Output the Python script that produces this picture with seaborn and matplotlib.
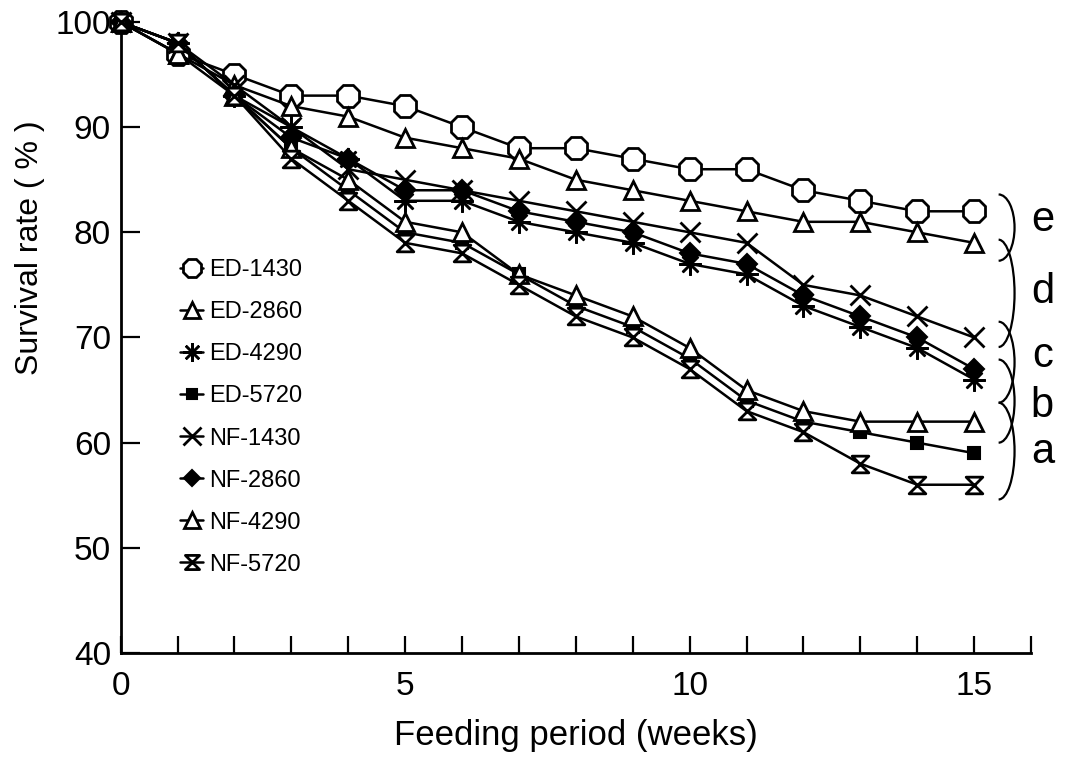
import matplotlib
matplotlib.use("Agg")
import matplotlib.pyplot as plt
import numpy as np
import pandas as pd
import seaborn as sns
from matplotlib.path import Path
from matplotlib.patches import Arc
from matplotlib.ticker import MultipleLocator, FixedLocator

# ---------------- data ----------------
weeks = list(range(16))
series_names = ["ED-1430", "ED-2860", "ED-4290", "ED-5720",
                "NF-1430", "NF-2860", "NF-4290", "NF-5720"]
ed_1430 = [100, 97, 95, 93, 93, 92, 90, 88, 88, 87, 86, 86, 84, 83, 82, 82]
ed_2860 = [100, 97, 94, 92, 91, 89, 88, 87, 85, 84, 83, 82, 81, 81, 80, 79]
ed_4290 = [100, 98, 93, 90, 87, 83, 83, 81, 80, 79, 77, 76, 73, 71, 69, 66]
ed_5720 = [100, 98, 93, 88, 84, 80, 79, 76, 73, 71, 68, 64, 62, 61, 60, 59]
nf_1430 = [100, 98, 94, 90, 86, 85, 84, 83, 82, 81, 80, 79, 75, 74, 72, 70]
nf_2860 = [100, 98, 93, 89, 87, 84, 84, 82, 81, 80, 78, 77, 74, 72, 70, 67]
nf_4290 = [100, 97, 93, 88, 85, 81, 80, 76, 74, 72, 69, 65, 63, 62, 62, 62]
nf_5720 = [100, 98, 93, 87, 83, 79, 78, 75, 72, 70, 67, 63, 61, 58, 56, 56]
series_values = [ed_1430, ed_2860, ed_4290, ed_5720,
                 nf_1430, nf_2860, nf_4290, nf_5720]

# significance groups (bracket spans in % and letters)
group_letters = ["e", "d", "c", "b", "a"]
group_top = [83.6, 79.3, 71.5, 67.9, 63.8]
group_bottom = [77.3, 69.1, 63.8, 60.0, 54.6]
letter_y = [81.2, 74.3, 68.2, 63.5, 59.1]

df = pd.DataFrame({
    "week": np.tile(weeks, len(series_names)),
    "survival": np.concatenate(series_values),
    "group": np.repeat(series_names, len(weeks)),
})

# ---------------- styles ----------------
hourglass = Path([(-1, 1), (1, 1), (-1, -1), (1, -1), (-1, 1)],
                 [Path.MOVETO, Path.LINETO, Path.LINETO, Path.LINETO, Path.CLOSEPOLY])
styles = {
    "ED-1430": dict(marker="8", ms=17, mfc="white", mew=2.0),
    "ED-2860": dict(marker="^", ms=13, mfc="white", mew=2.0),
    "ED-4290": dict(marker=(8, 2, 0), ms=16, mfc="black", mew=1.8),
    "ED-5720": dict(marker="s", ms=9, mfc="black", mew=1.5),
    "NF-1430": dict(marker="x", ms=15, mfc="black", mew=2.0),
    "NF-2860": dict(marker="D", ms=10, mfc="black", mew=1.5),
    "NF-4290": dict(marker="^", ms=13, mfc="white", mew=2.0),
    "NF-5720": dict(marker=hourglass, ms=12, mfc="white", mew=2.0),
}

sns.set_style("ticks")
plt.rcParams["font.family"] = ["Liberation Sans", "DejaVu Sans"]
for key in ["text.color", "axes.labelcolor", "xtick.color", "ytick.color", "axes.edgecolor"]:
    plt.rcParams[key] = "black"

fig = plt.figure(figsize=(10.69, 7.64), dpi=100)
ax = fig.add_axes([0.1129, 0.1453, 0.8516, 0.8259])

for name in series_names:
    st = styles[name]
    sns.lineplot(data=df[df["group"] == name], x="week", y="survival",
                 ax=ax, color="black", linewidth=1.8, label=name,
                 marker=st["marker"], markersize=st["ms"],
                 markerfacecolor=st["mfc"], markeredgecolor="black",
                 markeredgewidth=st["mew"], clip_on=False, zorder=3)

ax.set_xlim(0, 16)
ax.set_ylim(40, 100)
ax.xaxis.set_major_locator(FixedLocator([0, 5, 10, 15]))
ax.xaxis.set_minor_locator(MultipleLocator(1))
ax.yaxis.set_major_locator(MultipleLocator(10))
ax.tick_params(axis="x", which="both", direction="in", length=12, width=1.6,
               labelsize=24, pad=13)
ax.tick_params(axis="y", which="both", direction="in", length=14, width=1.6,
               labelsize=24, pad=7)
for sp in ["left", "bottom"]:
    ax.spines[sp].set_linewidth(2.0)
sns.despine(ax=ax)

ax.set_xlabel("Feeding period (weeks)", fontsize=25)
ax.set_ylabel("Survival rate ( % )", fontsize=23)
ax.xaxis.set_label_coords(0.5, -0.104)
ax.yaxis.set_label_coords(-0.083, 0.643)

# significance brackets
arc_x = 15.43
arc_w = 0.56
for top, bot, let, ly in zip(group_top, group_bottom, group_letters, letter_y):
    arc = Arc((arc_x, (top + bot) / 2), width=arc_w, height=top - bot,
              theta1=-90, theta2=90, color="black", linewidth=1.6, clip_on=False)
    ax.add_patch(arc)
    ax.text(16.2, ly, let, fontsize=30, ha="center", va="center", clip_on=False)

leg = ax.legend(loc="upper left", bbox_to_anchor=(0.065, 0.624), frameon=False,
                fontsize=17, handlelength=1.0, handletextpad=0.25,
                labelspacing=0.85, borderpad=0, borderaxespad=0)
for h in leg.legend_handles:
    h.set_markersize(h.get_markersize() * 0.85)

fig.savefig("out.png", dpi=100)
